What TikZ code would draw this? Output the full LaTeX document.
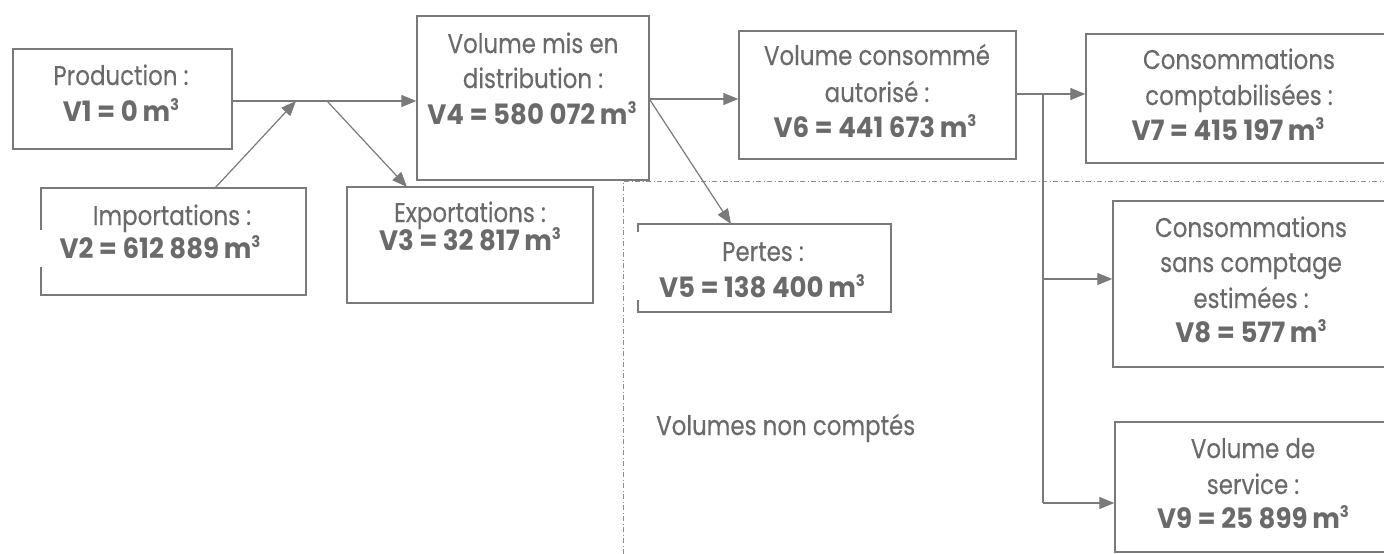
\documentclass[tikz,border=0pt]{standalone}
\usepackage{fontspec}
\setmainfont{Poppins}[FakeStretch=0.85, UprightFeatures={FakeBold=0.3}, BoldFont={Poppins Bold}, BoldFeatures={FakeStretch=0.93}]
\usetikzlibrary{arrows.meta}
\definecolor{txtgray}{HTML}{6A6A6A}
\definecolor{linegray}{HTML}{7A7A7A}
\newcommand\mcube{\,m\raisebox{10.5pt}{\fontsize{16}{16}\selectfont 3}}
\begin{document}
\begin{tikzpicture}[x=1pt,y=-1pt,
  box/.style={draw=linegray, line width=1.4pt, rectangle, inner sep=0pt},
  lbl/.style={anchor=base, text=txtgray, inner sep=0pt, font=\fontsize{27}{32}\selectfont},
  val/.style={lbl, font=\fontsize{28}{32}\selectfont\bfseries},
  flow/.style={draw=linegray, line width=1.2pt, -{Triangle[length=15pt,width=12pt]}},
  wire/.style={draw=linegray, line width=1.2pt},
  zone/.style={draw=linegray!85, line width=0.8pt, dash pattern=on 5pt off 2.5pt on 1pt off 2.5pt},
  gap/.style={draw=white, line width=3pt}]
\useasboundingbox (0,0) rectangle (1384,554);
\clip (0,0) rectangle (1384,554);
% zone boundary
\coordinate (zc) at (623,181);
\draw[zone] (623,554) -- (zc) -- (1384,181);
% boxes
\node[box, minimum width=219pt, minimum height=100pt] (prod) at (122.5,99) {};
\node[box, minimum width=265pt, minimum height=107pt] (imp) at (173.5,241.5) {};
\node[box, minimum width=246pt, minimum height=116pt] (exp) at (470,245) {};
\node[box, minimum width=232pt, minimum height=164pt] (v4) at (533,98) {};
\node[box, minimum width=253pt, minimum height=88pt] (v5) at (764.5,268) {};
\node[box, minimum width=277pt, minimum height=128pt] (v6) at (877.5,95) {};
\node[box, minimum width=306pt, minimum height=129pt] (v7) at (1239,98.5) {};
\node[box, minimum width=276pt, minimum height=166pt] (v8) at (1251,284) {};
\node[box, minimum width=276pt, minimum height=130pt] (v9) at (1253,487) {};
% gaps in left borders
\draw[gap] (imp.west |- 0,230) -- (imp.west |- 0,267);
\draw[gap] (v5.west |- 0,232) -- (v5.west |- 0,300);
% texts
\node[lbl] (prodA) at (121,85) {Production :};
\node[val] (prodB) at (121,121) {V1 = 0\mcube};
\node[lbl] (impA) at (172,225) {Importations :};
\node[val] (impB) at (160,258) {V2 = 612 889\mcube};
\node[lbl] (expA) at (470,222) {Exportations :};
\node[val] (expB) at (470,250) {V3 = 32 817\mcube};
\node[lbl] (v4A) at (533,53) {Volume mis en};
\node[lbl] (v4B) at (533,88) {distribution :};
\node[val] (v4C) at (532,124) {V4 = 580 072\mcube};
\node[lbl] (v5A) at (763,261) {Pertes :};
\node[val] (v5B) at (762,297) {V5 = 138 400\mcube};
\node[lbl] (v6A) at (877,65) {Volume consommé};
\node[lbl] (v6B) at (877,102) {autorisé :};
\node[val] (v6C) at (875,137) {V6 = 441 673\mcube};
\node[lbl] (v7A) at (1239,69) {Consommations};
\node[lbl] (v7B) at (1239,105) {comptabilisées :};
\node[val] (v7C) at (1228,140) {V7 = 415 197\mcube};
\node[lbl] (v8A) at (1251,237) {Consommations};
\node[lbl] (v8B) at (1251,272) {sans comptage};
\node[lbl] (v8C) at (1251,308) {estimées :};
\node[val] (v8D) at (1251,342) {V8 = 577\mcube};
\node[lbl] (v9A) at (1253,458) {Volume de};
\node[lbl] (v9B) at (1253,494) {service :};
\node[val] (v9C) at (1253,528) {V9 = 25 899\mcube};
\node[lbl, anchor=base west] (nc) at (656,435) {Volumes non comptés};
% connectors
\coordinate (j1) at (296,101);
\coordinate (j2) at (327,101);
\coordinate (impOut) at (215,188);
\coordinate (expIn) at (407,187);
\coordinate (v4Out) at (649,99);
\coordinate (v4Low) at (650,100);
\coordinate (v5In) at (731,224);
\coordinate (b0) at (1043,94);
\coordinate (b8) at (1043,279);
\coordinate (b9) at (1043,503);
\draw[flow] (prod.east |- j1) -- (v4.west |- j1);
\draw[flow] (impOut) -- (j1);
\draw[flow] (j2) -- (expIn);
\draw[flow] (v4Out) -- (v6.west |- v4Out);
\draw[flow] (v4Low) -- (v5In);
\draw[wire] (v6.east |- b0) -- (b0) -- (b9);
\draw[flow] (b0) -- (v7.west |- b0);
\draw[flow] (b8) -- (v8.west |- b8);
\draw[flow] (b9) -- (v9.west |- b9);
\end{tikzpicture}
\end{document}
